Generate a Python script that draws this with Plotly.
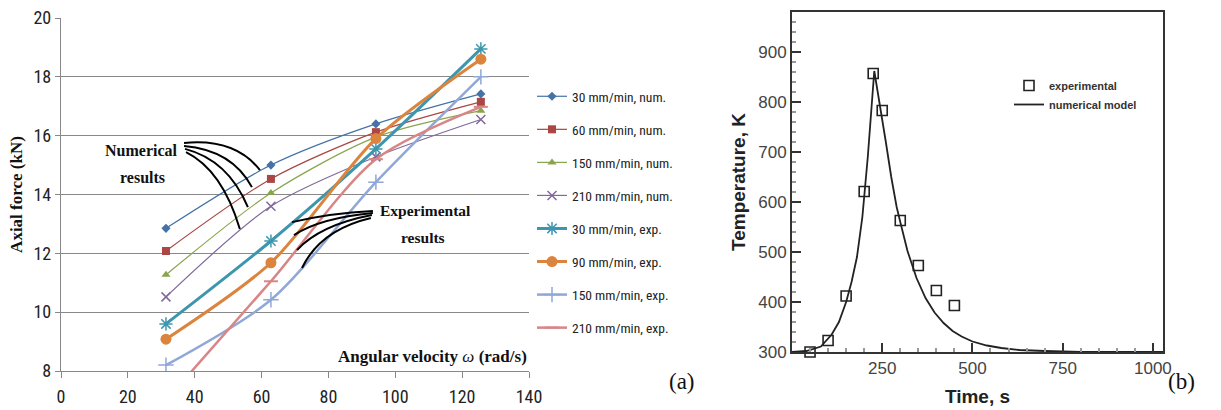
import plotly.graph_objects as go

# ---------------- Panel (a) data ----------------
omega = [31.4, 62.8, 94.2, 125.6]
series_names = ["30 mm/min, num.", "60 mm/min, num.", "150 mm/min, num.", "210 mm/min, num.",
                "30 mm/min, exp.", "90 mm/min, exp.", "150 mm/min, exp.", "210 mm/min, exp."]
num_30 = [12.85, 15.0, 16.4, 17.42]
num_60 = [12.08, 14.53, 16.12, 17.15]
num_150 = [11.27, 14.05, 15.95, 16.85]
num_210 = [10.52, 13.6, 15.28, 16.55]
exp_30 = [9.6, 12.42, 15.55, 18.95]
exp_90 = [9.08, 11.68, 15.9, 18.6]
exp_150 = [8.2, 10.42, 14.42, 18.0]
exp_210 = [7.0, 11.05, 15.2, 16.98]
force_ticks = [8, 10, 12, 14, 16, 18, 20]
omega_ticks = [0, 20, 40, 60, 80, 100, 120, 140]

# ---------------- Panel (b) data ----------------
exp_time = [50, 100, 150, 200, 225, 250, 300, 350, 400, 450]
exp_temp = [300, 323, 412, 621, 857, 783, 563, 473, 423, 393]
model_time = [0, 40, 80, 110, 130, 150, 165, 180, 195, 210, 228, 245, 260, 275, 290, 300,
              320, 345, 370, 395, 420, 445, 470, 500, 540, 580, 630, 700, 800, 1028]
model_temp = [300, 302, 311, 335, 360, 400, 440, 490, 570, 690, 862, 790, 720, 650, 590, 560,
              502, 448, 408, 379, 358, 342, 331, 321, 313, 308, 304, 302, 300, 300]
time_ticks = [250, 500, 750, 1000]

W, H = 1221, 410
def px(x):
    return x / W
def py(y):
    return 1 - y / H

NARROW = "Liberation Sans Narrow, Arial Narrow, Roboto Condensed, sans-serif"
SERIF = "Liberation Serif, Times New Roman, serif"
ARIAL = "Liberation Sans, Arial, sans-serif"

fig = go.Figure()

styles = [
    (num_30, "#4572A7", "diamond", 7, 1.2, 0),
    (num_60, "#AA4643", "square", 8, 1.2, 0),
    (num_150, "#89A54E", "triangle-up", 8, 1.2, 0),
    (num_210, "#80699B", "x-thin", 9, 1.2, 1.5),
    (exp_30, "#3D96AE", "asterisk", 11, 3.0, 1.5),
    (exp_90, "#DB843D", "circle", 11, 3.0, 0),
    (exp_150, "#8FA8D8", "cross-thin", 11, 2.5, 1.5),
    (exp_210, "#D98585", "line-ew", 10, 2.5, 2),
]
for i, (vals, col, sym, msize, lw, mlw) in enumerate(styles):
    fig.add_trace(go.Scatter(
        x=omega, y=vals, name=series_names[i], mode="lines+markers",
        line=dict(color=col, width=lw, shape="spline", smoothing=0.8),
        marker=dict(symbol=sym, size=msize, color=col, line=dict(color=col, width=mlw)),
        xaxis="x", yaxis="y", legend="legend", legendgroup=f"g{i}",
    ))

fig.add_trace(go.Scatter(
    x=exp_time, y=exp_temp, name="experimental", mode="markers",
    marker=dict(symbol="square-open", size=10, color="#222", line=dict(width=1.6)),
    xaxis="x2", yaxis="y2", legend="legend2", cliponaxis=False,
))
fig.add_trace(go.Scatter(
    x=model_time, y=model_temp, name="numerical model", mode="lines",
    line=dict(color="#222", width=1.8),
    xaxis="x2", yaxis="y2", legend="legend2",
))

# Curved pointer lines (annotation decoration) in data coordinates of panel (a)
num_curves = [
    ((36.8, 15.75), (52.0, 15.92), (59.5, 14.83)),
    ((36.8, 15.65), (51.2, 15.51), (57.1, 14.25)),
    ((37.1, 15.55), (50.0, 15.17), (55.9, 13.57)),
    ((37.4, 15.44), (48.2, 14.83), (53.5, 12.83)),
]
exp_curves = [
    ((93.3, 13.44), (80.5, 13.37), (69.1, 13.06)),
    ((93.3, 13.37), (77.5, 13.2), (69.7, 12.62)),
    ((93.0, 13.30), (77.5, 12.96), (70.6, 12.11)),
    ((92.7, 13.20), (77.5, 12.79), (72.1, 11.5)),
]
shapes = []
for (a, c, b) in num_curves + exp_curves:
    shapes.append(dict(type="path", xref="x", yref="y",
                       path=f"M {a[0]},{a[1]} Q {c[0]},{c[1]} {b[0]},{b[1]}",
                       line=dict(color="black", width=2)))

ann = [
    dict(text="<b>Numerical</b>", x=24.2, y=15.51, xref="x", yref="y", showarrow=False,
         font=dict(family=SERIF, size=16, color="#111")),
    dict(text="<b>results</b>", x=24.5, y=14.59, xref="x", yref="y", showarrow=False,
         font=dict(family=SERIF, size=16, color="#111")),
    dict(text="<b>Experimental</b>", x=108.9, y=13.44, xref="x", yref="y", showarrow=False,
         font=dict(family=SERIF, size=15.5, color="#111")),
    dict(text="<b>results</b>", x=108.3, y=12.55, xref="x", yref="y", showarrow=False,
         font=dict(family=SERIF, size=15.5, color="#111")),
    dict(text="<b>Angular velocity </b><i>ω</i><b> (rad/s)</b>", x=140, y=8.48, xref="x", yref="y",
         xanchor="right", showarrow=False, font=dict(family=SERIF, size=17, color="#111")),
    dict(text="(a)", x=px(682), y=py(396), xref="paper", yref="paper", showarrow=False,
         font=dict(family=SERIF, size=23, color="#111")),
    dict(text="(b)", x=px(1197), y=py(396), xref="paper", yref="paper", showarrow=False,
         font=dict(family=SERIF, size=23, color="#111")),
]

fig.update_layout(
    width=W, height=H, margin=dict(l=0, r=0, t=0, b=0, autoexpand=False),
    paper_bgcolor="white", plot_bgcolor="white",
    showlegend=True,
    shapes=shapes, annotations=ann,
    xaxis=dict(domain=[px(61), px(529)], range=[0, 140], tickvals=omega_ticks, automargin=False,
               showgrid=False, zeroline=False, showline=True, linecolor="#888", linewidth=1.3,
               ticks="outside", ticklen=6, tickcolor="#888", ticklabelstandoff=3,
               tickfont=dict(family=NARROW, size=18, color="#222"), anchor="y"),
    yaxis=dict(domain=[py(371), py(18)], range=[8, 20], tickvals=force_ticks, automargin=False,
               showgrid=True, gridcolor="#888", gridwidth=1.3, zeroline=False,
               showline=True, linecolor="#888", linewidth=1.3,
               ticks="outside", ticklen=5, tickcolor="#888",
               tickfont=dict(family=NARROW, size=18, color="#222"), anchor="x",
               title=dict(text="<b>Axial force (kN)</b>", standoff=6,
                          font=dict(family=SERIF, size=17, color="#111"))),
    xaxis2=dict(domain=[px(792), px(1163)], range=[0, 1028], tickvals=time_ticks, automargin=False,
                showgrid=False, zeroline=False, showline=True, mirror=True,
                linecolor="#333", linewidth=2, ticks="inside", ticklen=9, tickwidth=1.5,
                tickcolor="#333", minor=dict(dtick=50, ticks="inside", ticklen=4, tickcolor="#999"),
                tickfont=dict(family=ARIAL, size=17, color="#444"), anchor="y2",
                title=dict(text="<b>Time, s</b>", standoff=12,
                           font=dict(family=ARIAL, size=19, color="#222"))),
    yaxis2=dict(domain=[py(352), py(12)], range=[300, 980], tick0=300, dtick=100, automargin=False,
                showgrid=False, zeroline=False, showline=True, mirror=True,
                linecolor="#333", linewidth=2, ticks="inside", ticklen=9, tickwidth=1.5,
                tickcolor="#333", minor=dict(dtick=20, ticks="inside", ticklen=4, tickcolor="#999"),
                tickfont=dict(family=ARIAL, size=17, color="#444"), anchor="x2",
                title=dict(text="<b>Temperature, K</b>", standoff=8,
                           font=dict(family=ARIAL, size=19, color="#222"))),
    legend=dict(x=px(532), y=py(81), xanchor="left", yanchor="top", tracegroupgap=12.5,
                bgcolor="rgba(0,0,0,0)", font=dict(family=NARROW, size=13.5, color="#222")),
    legend2=dict(x=px(1009), y=py(71), xanchor="left", yanchor="top", tracegroupgap=0,
                 bgcolor="rgba(0,0,0,0)",
                 font=dict(family=ARIAL, size=11, color="#333", weight="bold")),
)

fig.write_html("out.html")
